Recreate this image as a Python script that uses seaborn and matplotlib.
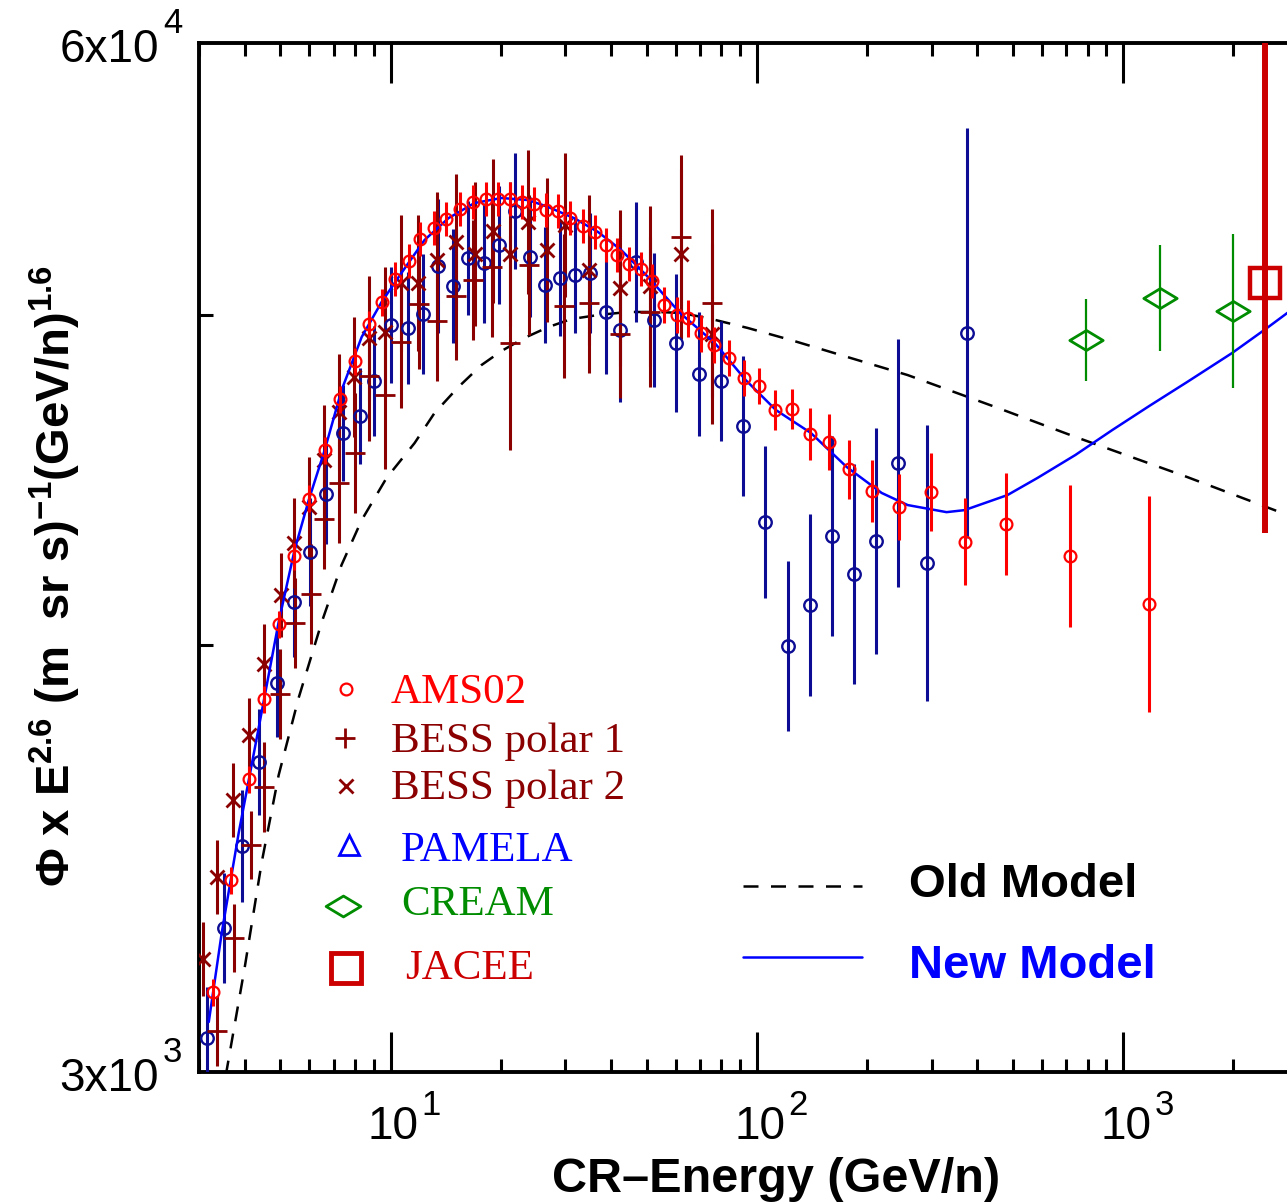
import numpy as np
import matplotlib
matplotlib.use('Agg')
import matplotlib.pyplot as plt
from matplotlib.path import Path
from matplotlib.ticker import LogLocator, NullLocator, NullFormatter
import seaborn as sns

# ---- data (E in GeV/n, flux x E^2.6) ----
# error values are multiplicative factors (bar runs from flux/f to flux*f)
ams_e = [3.27, 3.66, 4.10, 4.51, 4.95, 5.44, 5.98, 6.61, 7.26, 7.98, 8.71, 9.45,
         10.26, 11.2, 12.07, 13.1, 14.21, 15.51, 16.84, 18.26, 19.7, 21.23, 22.89,
         24.69, 26.6, 28.7, 30.9, 33.6, 36.2, 38.8, 41.5, 44.8, 48.3, 51.7, 55.8,
         60.5, 64.9, 70.4, 76.3, 83.9, 92.2, 101.3, 111.9, 124.6, 139.5, 157.1,
         178.1, 205.8, 243.8, 297.9, 368.8, 480, 717, 1177]
ams_flux = [3785, 5246, 7038, 8885, 11050, 13470, 15910, 18340, 21280, 23770, 26470,
            28220, 30170, 31800, 33900, 35000, 35930, 37000, 37760, 38090, 38090,
            38090, 37760, 37530, 36890, 36780, 36030, 35210, 34600, 33310, 32360,
            31520, 31070, 30000, 27980, 27180, 26930, 25780, 24900, 23980, 22620,
            22100, 20610, 20670, 19220, 18770, 17350, 16280, 15540, 16230, 14040,
            14790, 13470, 11720]
ams_err = [1.04] * 12 + [1.05] * 22 + [1.055] * 8 + [1.06, 1.06, 1.08, 1.085, 1.09,
           1.095, 1.10, 1.12, 1.135, 1.16, 1.23, 1.37]

pam_e = [3.15, 3.51, 3.93, 4.37, 4.89, 5.44, 6.02, 6.65, 7.40, 8.23, 9.04, 10.06,
         11.13, 12.23, 13.51, 14.85, 16.31, 18.04, 19.82, 21.9, 24.07, 26.44, 29.05,
         31.92, 35.08, 38.79, 42.34, 46.81, 52.4, 60.16, 69.5, 79.8, 91.6, 105.1,
         121.5, 139.5, 160.1, 183.8, 211.1, 242.2, 290.5, 375.7]
pam_flux = [3311, 4561, 5790, 7396, 9309, 11790, 13630, 16140, 19280, 20250, 22420,
            26400, 26170, 27260, 31350, 29570, 32080, 31620, 33310, 36780, 32170,
            29650, 30260, 30530, 30700, 27420, 26010, 31710, 26780, 25040, 22880,
            22420, 19670, 14880, 10370, 11680, 14280, 12790, 14070, 17660, 13200,
            25780]
pam_err = [1.16, 1.174, 1.177, 1.167, 1.17, 1.174, 1.17, 1.157, 1.15, 1.15, 1.174,
           1.184, 1.177, 1.191, 1.215, 1.18, 1.18, 1.191, 1.188, 1.184, 1.191, 1.184,
           1.184, 1.184, 1.191, 1.198, 1.233, 1.191, 1.215, 1.222, 1.198, 1.191,
           1.226, 1.248, 1.281, 1.303, 1.338, 1.377, 1.39, 1.435, 1.494, 1.816]

bess1_e = [3.36, 3.73, 4.15, 4.51, 4.98, 5.47, 6.05, 6.57, 7.22, 7.98, 8.71, 9.63,
           10.71, 11.99, 13.43, 15.13, 16.84, 18.96, 21.23, 23.91, 29.8, 34.8, 42.34,
           51.1, 62.1, 75.4]
bess1_flux = [3381, 4430, 5808, 6877, 9016, 11080, 12060, 15010, 16660, 18180, 22750,
              21530, 25120, 28050, 26700, 28720, 30090, 31250, 25040, 31430, 27890,
              28130, 25710, 27420, 34100, 28130]
bess1_err = [1.107, 1.104, 1.104, 1.14, 1.14, 1.14, 1.157, 1.157, 1.191, 1.191, 1.208,
             1.24, 1.212, 1.208, 1.191, 1.205, 1.191, 1.226, 1.365, 1.226, 1.233,
             1.226, 1.205, 1.244, 1.27, 1.315]

bess2_e = [3.07, 3.36, 3.71, 4.10, 4.51, 5.02, 5.44, 5.98, 6.57, 7.22, 7.93, 8.71,
           9.63, 10.71, 11.92, 13.43, 15.13, 17.05, 19.09, 21.23, 23.77, 26.78, 29.99,
           34.85, 42.34, 51.1, 62.1, 75.4]
bess2_flux = [4169, 5291, 6622, 8000, 9838, 12030, 13990, 15540, 17810, 20490, 22680,
              25420, 25850, 29830, 29830, 31890, 33600, 32450, 34700, 32450, 35620,
              32840, 35310, 30970, 29400, 29570, 32450, 25710]
bess2_err = [1.114, 1.114, 1.114, 1.114, 1.124, 1.13, 1.14, 1.157, 1.174, 1.184, 1.191,
             1.198, 1.208, 1.219, 1.219, 1.219, 1.219, 1.233, 1.233, 1.233, 1.233,
             1.233, 1.233, 1.244, 1.255, 1.262, 1.281, 1.3]

cream_e = [793, 1262, 1994]
cream_flux = [25270, 28550, 27490]
cream_err = [1.127, 1.167, 1.251]

jacee_e = [2438]
jacee_flux = [29830]
jacee_err = [2.07]

new_e = [3.19, 3.46, 3.85, 4.37, 4.95, 5.47, 5.98, 6.61, 7.35, 8.34, 9.45, 10.7, 12.38,
         14.39, 16.94, 20.07, 23.77, 26.95, 31.72, 36.88, 42.61, 50.47, 61.7, 76.8,
         93.3, 112.7, 140.4, 175.9, 219.1, 257.9, 329.4, 368.8, 483, 583, 740, 933,
         1177, 1494, 1982, 2469, 3000]
new_flux = [3470, 4496, 6016, 8191, 11120, 13710, 15860, 18340, 21840, 25490, 28220,
            30700, 33810, 36030, 37650, 38210, 37980, 37220, 36030, 34600, 32840,
            30350, 27340, 25040, 22480, 20610, 19280, 17460, 16190, 15630, 15310,
            15400, 16090, 16910, 18080, 19440, 20850, 22360, 24330, 26170, 27980]

old_e = [3.55, 4.00, 4.45, 4.95, 5.61, 6.49, 7.35, 8.34, 9.75, 11.63, 13.18, 15.32,
         17.70, 20.07, 23.18, 26.95, 31.13, 36.88, 44.5, 53.73, 62.1, 73.55, 94.5,
         123.8, 180.4, 257.9, 448, 740, 1494, 2678, 3000]
old_flux = [2970, 4072, 5527, 7121, 8911, 11120, 13130, 14960, 16910, 18720, 20430,
            22040, 23490, 24470, 25420, 26240, 26860, 27180, 27420, 27420, 27340,
            26930, 26170, 25270, 23980, 22820, 20790, 19060, 16960, 15310, 15010]

x_ticks = [10, 100, 1000]
x_tick_exp = ['1', '2', '3']
y_ticks = [10400, 27200]
y_labels = [(60000, '6x10', '4'), (3000, '3x10', '3')]

# ---- style ----
sns.set_theme(style='ticks')
plt.rcParams['font.family'] = ['Liberation Sans', 'DejaVu Sans']
plt.rcParams['text.color'] = 'black'
plt.rcParams['axes.labelcolor'] = 'black'
plt.rcParams['xtick.color'] = 'black'
plt.rcParams['ytick.color'] = 'black'
plt.rcParams['mathtext.fontset'] = 'custom'
plt.rcParams['mathtext.rm'] = 'Liberation Sans'
plt.rcParams['mathtext.bf'] = 'Liberation Sans:bold'
plt.rcParams['mathtext.default'] = 'bf'
serif = ['Liberation Serif', 'DejaVu Serif']

red = '#ff0000'
darkred = '#8b0000'
navy = '#0c0c94'
green = '#008c00'
jred = '#cc0000'
blue = '#0000ff'

W, H = 1287, 1203
fig = plt.figure(figsize=(W / 100, H / 100), dpi=100)
ax = fig.add_axes([199 / W, 1 - 1072 / H, 1099 / W, 1029 / H])
ax.set_xscale('log')
ax.set_yscale('log')


def bars(flux, fac):
    flux = np.asarray(flux, float)
    fac = np.asarray(fac, float)
    return [flux - flux / fac, flux * fac - flux]


def axpos(px, py):
    return (px - 199) / 1099, (1072 - py) / 1029


# models
sns.lineplot(x=old_e, y=old_flux, ax=ax, color='black', lw=1.8,
             linestyle=(0, (6, 5)), estimator=None, sort=False, zorder=2)

# data
ax.errorbar(pam_e, pam_flux, yerr=bars(pam_flux, pam_err), fmt='o', ms=9,
            mfc='none', mec=navy, mew=1.7, ecolor=navy, elinewidth=2.2, capsize=0, zorder=3)
ax.errorbar(bess1_e, bess1_flux, yerr=bars(bess1_flux, bess1_err), fmt='+', ms=15,
            mec=darkred, mew=2, ecolor=darkred, elinewidth=2.2, capsize=0, zorder=3)
ax.errorbar(bess2_e, bess2_flux, yerr=bars(bess2_flux, bess2_err), fmt='x', ms=10.5,
            mec=darkred, mew=2, ecolor=darkred, elinewidth=2.2, capsize=0, zorder=3)

sns.lineplot(x=new_e, y=new_flux, ax=ax, color=blue, lw=1.8,
             estimator=None, sort=False, zorder=4)

ax.errorbar(ams_e, ams_flux, yerr=bars(ams_flux, ams_err), fmt='o', ms=8.5,
            mfc='none', mec=red, mew=1.6, ecolor=red, elinewidth=2.2, capsize=0, zorder=5)

diamond = Path([(-1, 0), (0, 0.6), (1, 0), (0, -0.6), (-1, 0)],
               [Path.MOVETO, Path.LINETO, Path.LINETO, Path.LINETO, Path.CLOSEPOLY])
ax.errorbar(cream_e, cream_flux, yerr=bars(cream_flux, cream_err), fmt='none',
            ecolor=green, elinewidth=1.6, capsize=0, zorder=6)
ax.plot(cream_e, cream_flux, ls='none', marker=diamond, ms=24, mfc='none',
        mec=green, mew=2, zorder=6)
ax.errorbar(jacee_e, jacee_flux, yerr=bars(jacee_flux, jacee_err), fmt='s', ms=21,
            mfc='none', mec=jred, mew=3.2, ecolor=jred, elinewidth=4.3, capsize=0, zorder=6)

# axes
ax.set_xlim(3, 3000)
ax.set_ylim(3000, 60000)
ax.set_xticks(x_ticks)
ax.xaxis.set_minor_locator(LogLocator(base=10, subs=np.arange(2, 10), numticks=50))
ax.xaxis.set_minor_formatter(NullFormatter())
ax.set_yticks(y_ticks)
ax.yaxis.set_minor_locator(NullLocator())
ax.yaxis.set_minor_formatter(NullFormatter())
ax.tick_params(axis='x', which='major', direction='in', length=29, width=2.2,
               top=True, bottom=True, labelbottom=False, color='black')
ax.tick_params(axis='x', which='minor', direction='in', length=9.5, width=2.2,
               top=True, bottom=True, color='black')
ax.tick_params(axis='y', which='major', direction='in', length=10, width=2.2,
               left=True, right=False, labelleft=False, color='black')
for sp in ax.spines.values():
    sp.set_linewidth(2.8)
    sp.set_color('black')
ax.grid(False)

# tick labels with full-size exponents
for e, exp in zip(x_ticks, x_tick_exp):
    ax.annotate('10', xy=(e, 0), xycoords=ax.get_xaxis_transform(), xytext=(2, -48.5),
                textcoords='offset points', ha='center', va='baseline', fontsize=33,
                color='black')
    ax.annotate(exp, xy=(e, 0), xycoords=ax.get_xaxis_transform(), xytext=(22.5, -31),
                textcoords='offset points', ha='left', va='baseline', fontsize=25,
                color='black')
for val, mant, exp in y_labels:
    ax.annotate(mant, xy=(0, val), xycoords=ax.get_yaxis_transform(), xytext=(-29, -13.7),
                textcoords='offset points', ha='right', va='baseline', fontsize=33,
                color='black')
    ax.annotate(exp, xy=(0, val), xycoords=ax.get_yaxis_transform(), xytext=(-26, 7),
                textcoords='offset points', ha='left', va='baseline', fontsize=25,
                color='black')

fig.text(776 / W, 1 - 1192 / H, 'CR\u2013Energy (GeV/n)', ha='center', va='baseline',
         fontsize=35, fontweight='bold', color='black')
fig.text(55 / W, 1 - 576 / H,
         '\u03a6 x E$^{2.6}$ (m  sr s)$^{-1}$(GeV/n)$^{1.6}$',
         rotation=90, ha='center', va='center', fontsize=34, fontweight='bold',
         color='black')

# left legend (markers + coloured names)
leg = [
    (346, 689, dict(marker='o', ms=8.5, mfc='none', mec=red, mew=1.6), 'AMS02', red, 391, 703),
    (345, 738, dict(marker='+', ms=15, mec=darkred, mew=2), 'BESS polar 1', darkred, 391, 752),
    (346, 786, dict(marker='x', ms=10.5, mec=darkred, mew=2), 'BESS polar 2', darkred, 391, 799),
    (349, 845, dict(marker='^', ms=15, mfc='none', mec=blue, mew=2), 'PAMELA', blue, 401, 861),
    (343, 906, dict(marker=diamond, ms=25, mfc='none', mec=green, mew=2), 'CREAM', green, 401, 915),
    (346, 968, dict(marker='s', ms=21, mfc='none', mec=jred, mew=3.5), 'JACEE', jred, 405, 979),
]
for mx, my, mkw, name, col, tx, ty in leg:
    ax.plot(*[[v] for v in axpos(mx, my)], ls='none', transform=ax.transAxes,
            clip_on=False, **mkw)
    ax.text(*axpos(tx, ty), name, transform=ax.transAxes, color=col, fontsize=31,
            family=serif, ha='left', va='baseline')

# right legend (models)
x0, y0 = axpos(743, 886)
x1, _ = axpos(862, 886)
ax.plot([x0, x1], [y0, y0], transform=ax.transAxes, color='black', lw=1.8,
        linestyle=(0, (6, 5)))
ax.text(*axpos(909, 897), 'Old Model', transform=ax.transAxes, color='black',
        fontsize=34, fontweight='bold', ha='left', va='baseline')
x0, y0 = axpos(743, 957)
ax.plot([x0, x1], [y0, y0], transform=ax.transAxes, color=blue, lw=1.8)
ax.text(*axpos(909, 978), 'New Model', transform=ax.transAxes, color=blue,
        fontsize=34, fontweight='bold', ha='left', va='baseline')

fig.savefig('out.png', dpi=100)
